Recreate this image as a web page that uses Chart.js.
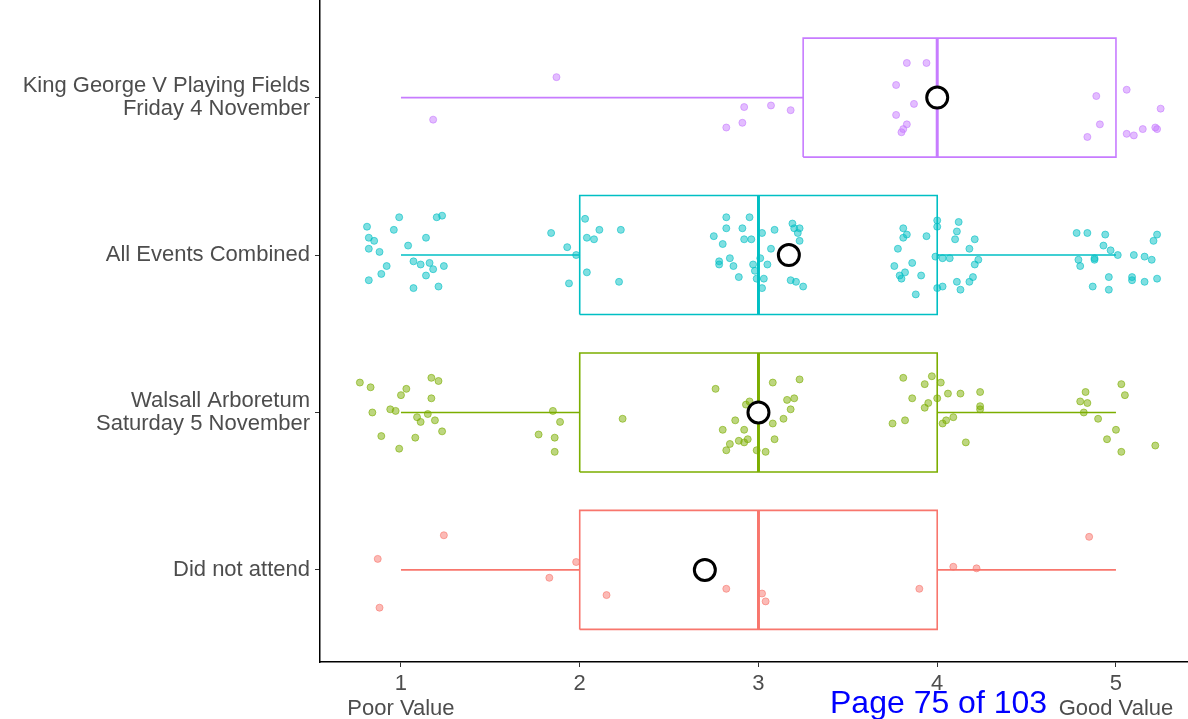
<!DOCTYPE html>
<html>
<head>
<meta charset="utf-8">
<script src="https://cdn.jsdelivr.net/npm/chart.js@4/dist/chart.umd.min.js"></script>
<style>
  body { margin: 0; background: #ffffff; }
  #wrap { position: relative; width: 1188px; height: 719px; }
  #page { position: absolute; left: 830px; top: 686px; font: 32px "Liberation Sans", Arial, sans-serif; line-height: 1; color: #0000ff; white-space: nowrap; }
</style>
</head>
<body>
<div id="wrap">
  <canvas id="chart" width="1188" height="719"></canvas>
  <div id="page">Page 75 of 103</div>
</div>
<script>
// groups, bottom to top
const groups = [
    ["Did not attend"],
    ["Walsall Arboretum", "Saturday 5 November"],
    ["All Events Combined"],
    ["King George V Playing Fields", "Friday 4 November"]
]
const groupColours = ["#F8766D", "#7CAE00", "#00BFC4", "#C77CFF"]

const xTicks = [1, 2, 3, 4, 5]
const xTickLabels = [["1", "Poor Value"], "2", "3", "4", ["5", "Good Value"]]

// box statistics
const whiskerLow = [1, 1, 1, 1]
const q1 = [2, 2, 2, 3.25]
const median = [3, 3, 3, 4]
const q3 = [4, 4, 4, 5]
const whiskerHigh = [5, 5, 5, 5]
const means = [2.7, 3.0, 3.17, 4.0]

// jittered answers: x value and vertical jitter
const dnaX = [0.87, 0.88, 1.24, 1.83, 1.98, 2.15, 2.82, 3.02, 3.04, 3.90, 4.09, 4.22, 4.85]
const dnaJ = [0.07, -0.24, 0.22, -0.05, 0.05, -0.16, -0.12, -0.15, -0.20, -0.12, 0.02, 0.01, 0.21]

const walX = [0.77, 0.83, 1.00, 1.03, 1.17, 1.21, 1.17, 0.84, 0.94, 0.97, 1.15, 1.09, 1.11, 1.19, 1.23, 0.89, 1.08, 0.99,
    1.85, 1.89, 1.77, 1.86, 1.86, 2.24,
    2.76, 2.87, 2.80, 2.92, 2.93, 2.95, 2.89, 2.92, 2.94, 2.84, 2.82, 2.99,
    3.08, 3.23, 3.16, 3.20, 3.18, 3.14, 3.08, 3.09, 3.04,
    3.81, 3.93, 3.97, 4.02, 3.86, 4.00, 3.95, 3.93, 4.06, 4.13, 4.24, 4.24, 4.24, 3.75, 3.82, 4.03, 4.05, 4.09, 4.16,
    4.83, 4.80, 4.84, 4.82, 4.90, 5.03, 5.05, 5.00, 4.95, 5.03, 5.22]
const walJ = [0.19, 0.16, 0.11, 0.15, 0.22, 0.20, 0.09, 0.00, 0.02, 0.01, -0.01, -0.03, -0.06, -0.05, -0.12, -0.15, -0.16, -0.23,
    0.01, -0.06, -0.14, -0.16, -0.25, -0.04,
    0.15, -0.05, -0.11, -0.11, 0.05, 0.07, -0.18, -0.19, -0.17, -0.20, -0.24, -0.24,
    0.19, 0.21, 0.08, 0.09, 0.02, -0.04, -0.07, -0.17, -0.25,
    0.22, 0.18, 0.23, 0.19, 0.09, 0.09, 0.06, 0.03, 0.12, 0.12, 0.13, 0.04, 0.02, -0.07, -0.05, -0.07, -0.05, -0.03, -0.19,
    0.13, 0.07, 0.06, 0.00, -0.04, 0.18, 0.11, -0.11, -0.17, -0.25, -0.21]

const allX = [0.81, 0.99, 1.20, 1.23, 0.96, 0.82, 0.85, 0.82, 0.88, 1.04, 1.14, 1.07, 1.11, 1.16, 1.18, 1.24, 0.92, 0.89, 1.14, 0.82, 1.07, 1.21,
    1.84, 1.93, 1.98, 1.94, 2.03, 2.11, 2.04, 2.08, 2.23, 2.04, 2.22,
    2.82, 2.95, 2.82, 2.91, 2.75, 2.92, 2.96, 2.80, 2.84, 2.78, 2.78, 2.86, 2.97, 2.89, 2.98, 2.99,
    3.02, 3.09, 3.19, 3.20, 3.23, 3.22, 3.23, 3.07, 3.01, 3.05, 3.03, 3.02, 3.18, 3.21, 3.25,
    3.81, 3.83, 3.81, 3.94, 3.78, 3.86, 3.76, 3.82, 3.79, 3.80, 3.91, 3.88,
    4.00, 4.00, 4.12, 4.11, 4.10, 4.21, 4.18, 3.99, 4.03, 4.07, 4.23, 4.21, 4.20, 4.11, 4.18, 4.00, 4.03, 4.13,
    4.78, 4.84, 4.94, 4.93, 4.97, 5.01, 5.10, 5.16, 5.20, 5.23, 5.21, 4.79, 4.80, 4.88, 4.88, 4.96, 4.87, 4.96, 5.09, 5.09, 5.16, 5.23]
const allJ = [0.18, 0.24, 0.24, 0.25, 0.16, 0.11, 0.09, 0.04, 0.02, 0.06, 0.11, -0.04, -0.06, -0.05, -0.09, -0.07, -0.07, -0.12, -0.13, -0.16, -0.21, -0.20,
    0.14, 0.05, 0.00, -0.18, 0.23, 0.16, 0.11, 0.10, 0.16, -0.11, -0.17,
    0.24, 0.24, 0.17, 0.17, 0.12, 0.10, 0.10, 0.07, -0.02, -0.04, -0.06, -0.07, -0.06, -0.14, -0.10, -0.15,
    0.14, 0.16, 0.20, 0.17, 0.17, 0.14, 0.09, 0.04, -0.02, -0.06, -0.15, -0.21, -0.16, -0.17, -0.20,
    0.17, 0.13, 0.11, 0.12, 0.04, -0.05, -0.07, -0.11, -0.13, -0.15, -0.13, -0.25,
    0.22, 0.18, 0.21, 0.15, 0.10, 0.10, 0.04, -0.01, -0.02, -0.02, -0.03, -0.06, -0.14, -0.17, -0.17, -0.21, -0.20, -0.22,
    0.14, 0.14, 0.13, 0.06, 0.03, 0.00, 0.00, -0.01, -0.03, 0.13, 0.09, -0.03, -0.07, -0.02, -0.03, -0.14, -0.20, -0.22, -0.14, -0.16, -0.17, -0.15]

const kgvX = [1.87, 1.18, 2.92, 2.91, 2.82, 3.07, 3.18, 3.83, 3.94, 3.77, 3.87, 3.77, 3.83, 3.81, 3.80,
    4.89, 4.91, 4.84, 5.06, 5.25, 5.06, 5.10, 5.15, 5.22, 5.23]
const kgvJ = [0.13, -0.14, -0.06, -0.16, -0.19, -0.05, -0.08, 0.22, 0.22, 0.08, -0.04, -0.11, -0.17, -0.20, -0.22,
    0.01, -0.17, -0.25, 0.05, -0.07, -0.23, -0.24, -0.20, -0.19, -0.20]

const jitterX = [dnaX, walX, allX, kgvX]
const jitterJ = [dnaJ, walJ, allJ, kgvJ]

const boxHalf = 0.378
const font = "'Liberation Sans', Arial, sans-serif"

const datasets = []
const lineStyle = (colour, width, order) => ({
    showLine: true, fill: false, pointRadius: 0, borderColor: colour,
    borderWidth: width, order: order, borderJoinStyle: 'miter'
})

groups.forEach((g, i) => {
    const c = i + 1
    const col = groupColours[i]
    datasets.push({ data: [{ x: whiskerLow[i], y: c }, { x: q1[i], y: c }], ...lineStyle(col, 1.6, 5) })
    if (whiskerHigh[i] > q3[i]) {
        datasets.push({ data: [{ x: q3[i], y: c }, { x: whiskerHigh[i], y: c }], ...lineStyle(col, 1.6, 5) })
    }
    datasets.push({
        data: [
            { x: q1[i], y: c - boxHalf }, { x: q3[i], y: c - boxHalf },
            { x: q3[i], y: c + boxHalf }, { x: q1[i], y: c + boxHalf },
            { x: q1[i], y: c - boxHalf }
        ],
        ...lineStyle(col, 1.6, 4)
    })
    datasets.push({ data: [{ x: median[i], y: c - boxHalf }, { x: median[i], y: c + boxHalf }], ...lineStyle(col, 3, 3) })
    datasets.push({
        data: jitterX[i].map((x, k) => ({ x: x, y: c + jitterJ[i][k] })),
        pointRadius: 3.5,
        backgroundColor: col + '80',
        borderColor: col + '99',
        borderWidth: 1,
        order: 2
    })
})

datasets.push({
    data: means.map((m, i) => ({ x: m, y: i + 1 })),
    pointRadius: 10.5,
    backgroundColor: '#ffffff',
    borderColor: '#000000',
    borderWidth: 3,
    order: 0
})

const config = {
    type: 'scatter',
    data: { datasets: datasets },
    options: {
        responsive: false,
        animation: false,
        devicePixelRatio: 1,
        layout: { padding: 0, autoPadding: false },
        scales: {
            x: {
                type: 'linear',
                min: 0.547,
                max: 5.403,
                afterBuildTicks: s => { s.ticks = xTicks.map(v => ({ value: v })) },
                afterFit: s => {
                    s.height = 57
                    s.paddingLeft = 0
                    s.paddingRight = 0
                },
                grid: { drawOnChartArea: false, drawTicks: true, tickLength: 5, color: '#333333' },
                border: { display: true, color: '#000000', width: 1.5 },
                ticks: {
                    color: '#4D4D4D',
                    padding: 4,
                    maxRotation: 0,
                    autoSkip: false,
                    font: { family: font, size: 22, lineHeight: 1.15 },
                    callback: (v, i) => xTickLabels[i]
                }
            },
            y: {
                type: 'linear',
                min: 0.415,
                max: 4.62,
                afterBuildTicks: s => { s.ticks = groups.map((g, i) => ({ value: i + 1 })) },
                afterFit: s => {
                    s.width = 320
                    s.paddingTop = 0
                    s.paddingBottom = 0
                },
                grid: { drawOnChartArea: false, drawTicks: true, tickLength: 5, color: '#333333' },
                border: { display: true, color: '#000000', width: 1.5 },
                ticks: {
                    color: '#4D4D4D',
                    padding: 5,
                    autoSkip: false,
                    font: { family: font, size: 22, lineHeight: 1.05 },
                    callback: v => groups[v - 1]
                }
            }
        },
        plugins: {
            legend: { display: false },
            tooltip: { enabled: false }
        }
    }
}

const myChart = new Chart(document.getElementById("chart"), config)
</script>
</body>
</html>
